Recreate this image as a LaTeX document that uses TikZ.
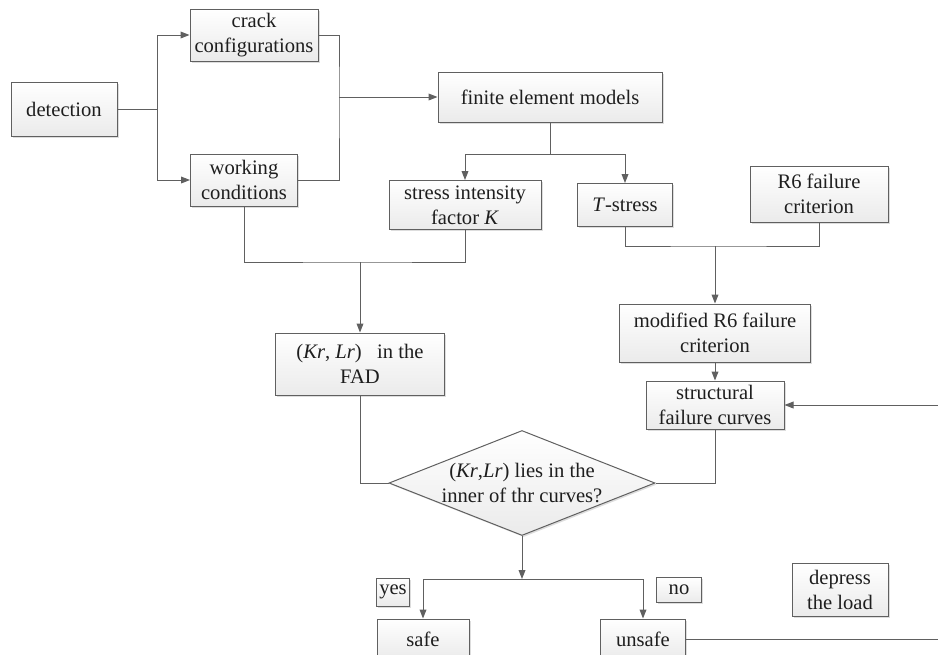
\documentclass[tikz,border=0pt]{standalone}
\usepackage{fontspec}
\setmainfont{Liberation Serif}
\usepackage{tikz}
\usetikzlibrary{arrows.meta,shapes.geometric,shadows}
\definecolor{linegray}{RGB}{96,96,96}
\definecolor{textgray}{RGB}{30,30,30}

\begin{document}
\begin{tikzpicture}[x=0.5pt,y=-0.5pt,
	box/.style={draw=linegray,line width=0.5pt,top color=white,bottom color=gray!16,
		drop shadow={shadow xshift=0.8pt,shadow yshift=-0.8pt,fill=gray!45,opacity=0.6},
		align=center,inner sep=1pt,text=textgray,font=\fontsize{10.3}{12.5}\selectfont},
	decide/.style={box,diamond,aspect=2.53,inner xsep=-2pt,inner ysep=-1pt},
	link/.style={draw=linegray,line width=0.5pt},
	arr/.style={link,-{Triangle[length=4.5pt,width=3.4pt]}}]
				\useasboundingbox (0,0) rectangle (938,654);
				\clip (0,0) rectangle (938,654);
				
				\path (64,109) node[box,minimum width=53pt,minimum height=27pt] (detect) {detection};
				\path (254,35) node[box,minimum width=64pt,minimum height=26pt] (crack) {crack\\configurations};
				\path (244,180) node[box,minimum width=53.5pt,minimum height=26pt] (work) {working\\conditions};
				\path (550,97) node[box,minimum width=112pt,minimum height=25pt] (fem) {finite element models};
				\path (465,205) node[box,minimum width=76pt,minimum height=24.5pt] (sif) {stress intensity\\factor \textit{K}};
				\path (625,205) node[box,minimum width=47.5pt,minimum height=21.5pt] (tstress) {\textit{T}-stress};
				\path (819,194) node[box,minimum width=69pt,minimum height=28pt] (rsix) {R6 failure\\criterion};
				\path (715,333) node[box,minimum width=95.5pt,minimum height=29pt] (modrsix) {modified R6 failure\\criterion};
				\path (715,405) node[box,minimum width=69pt,minimum height=24pt] (curves) {structural\\failure curves};
				\path (360,364) node[box,minimum width=84.5pt,minimum height=31pt] (fad) {(\textit{Kr}, \textit{Lr})~~~in the\\FAD};
				\path (522,483) node[decide,minimum width=133pt,minimum height=52.5pt] (inner) {(\textit{Kr},\textit{Lr}) lies in the\\inner of thr curves?};
				\path (423,639) node[box,minimum width=46pt,minimum height=20pt] (safe) {safe};
				\path (643,639) node[box,minimum width=42.5pt,minimum height=20pt] (unsafe) {unsafe};
				\path (393,592) node[box,minimum width=16.5pt,minimum height=14pt] (yes) {yes};
				\path (679,590) node[box,minimum width=22.5pt,minimum height=12.5pt] (no) {no};
				\path (840,590) node[box,minimum width=48pt,minimum height=26.5pt] (depress) {depress\\the load};
				
				\coordinate (split) at (157,109);
				\coordinate (merge) at (339,97);
				\coordinate (femsplit) at (550,154);
				\coordinate (fadjoin) at (360,262);
				\coordinate (rsixjoin) at (715,246);
				\coordinate (yesno) at (522,579);
				\coordinate (loadin) at (945,405);
				\coordinate (loadout) at (945,639);
				
				\draw[link] (detect.east) -- (split);
				\draw[arr] (split) |- (crack.west);
				\draw[arr] (split) |- (work.west);
				\draw[link] (crack.east) -| (merge) |- (work.east);
				\draw[arr] (merge) -- (fem.west);
				\draw[link] (fem.south) -- (femsplit);
				\draw[arr] (femsplit) -| (sif.north);
				\draw[arr] (femsplit) -| (tstress.north);
				\draw[link] (work.south) |- (fadjoin) -| (sif.south);
				\draw[arr] (fadjoin) -- (fad.north);
				\draw[link] (tstress.south) |- (rsixjoin) -| (rsix.south);
				\draw[arr] (rsixjoin) -- (modrsix.north);
				\draw[arr] (modrsix.south) -- (curves.north);
				\draw[arr] (loadin) -- (curves.east);
				\draw[link] (fad.south) |- (inner.west);
				\draw[link] (curves.south) |- (inner.east);
				\draw[arr] (inner.south) -- (yesno);
				\draw[arr] (yesno) -| (safe.north);
				\draw[arr] (yesno) -| (unsafe.north);
				\draw[link] (unsafe.east) -- (loadout);
				\end{tikzpicture}
\end{document}
